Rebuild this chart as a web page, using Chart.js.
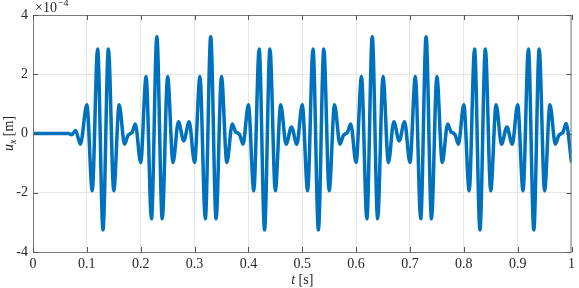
<!DOCTYPE html>
<html>
<head>
<meta charset="utf-8">
<script src="https://cdn.jsdelivr.net/npm/chart.js@4/dist/chart.umd.min.js"></script>
<style>
  html, body { margin: 0; padding: 0; background: #fff; }
  #wrap { width: 579px; height: 288px; }
</style>
</head>
<body>
<div id="wrap"><canvas id="uxChart" width="579" height="288"></canvas></div>
<script>
//----------------------
// Data (u_x in units of 1e-4 m)
//----------------------

const tValues = [0, 0.066, 0.072, 0.079, 0.088,
  0.10, 0.11, 0.12, 0.13, 0.14, 0.15, 0.16, 0.17, 0.176, 0.18, 0.184, 0.19,
  0.20, 0.21, 0.22, 0.23, 0.24, 0.25, 0.26, 0.27, 0.28, 0.29,
  0.30, 0.31, 0.32, 0.33, 0.34, 0.35, 0.36, 0.37, 0.376, 0.38, 0.384, 0.39,
  0.40, 0.41, 0.42, 0.43, 0.44, 0.45, 0.46, 0.47, 0.48, 0.49,
  0.50, 0.51, 0.52, 0.53, 0.54, 0.55, 0.56, 0.57, 0.576, 0.58, 0.584, 0.59,
  0.60, 0.61, 0.62, 0.63, 0.64, 0.65, 0.66, 0.67, 0.68, 0.69,
  0.70, 0.71, 0.72, 0.73, 0.74, 0.75, 0.76, 0.77, 0.776, 0.78, 0.784, 0.79,
  0.80, 0.81, 0.82, 0.83, 0.84, 0.85, 0.86, 0.87, 0.88, 0.89,
  0.90, 0.91, 0.92, 0.93, 0.94, 0.95, 0.96, 0.97, 0.976, 0.98, 0.984, 0.99,
  1.0];

const uValues = [0, 0, -0.04, 0.1, -0.36,
  0.97, -1.93, 2.85, -3.25, 2.85, -1.93, 0.97, -0.36, -0.08, -0.01, 0.04, 0.32,
  -0.98, 1.92, -2.88, 3.27, -2.88, 1.92, -0.98, 0.4, -0.25, 0.4,
  -0.98, 1.92, -2.88, 3.27, -2.88, 1.92, -0.98, 0.32, 0.06, 0.02, -0.05, -0.36,
  0.97, -1.93, 2.85, -3.25, 2.85, -1.93, 0.97, -0.36, 0.22, -0.36,
  0.97, -1.93, 2.85, -3.25, 2.85, -1.93, 0.97, -0.36, -0.08, -0.01, 0.04, 0.32,
  -0.98, 1.92, -2.88, 3.27, -2.88, 1.92, -0.98, 0.4, -0.25, 0.4,
  -0.98, 1.92, -2.88, 3.27, -2.88, 1.92, -0.98, 0.32, 0.06, 0.02, -0.05, -0.36,
  0.97, -1.93, 2.85, -3.25, 2.85, -1.93, 0.97, -0.36, 0.22, -0.36,
  0.97, -1.93, 2.85, -3.25, 2.85, -1.93, 0.97, -0.36, -0.08, -0.01, 0.04, 0.34,
  -0.98];

const xTicks = [0, 0.1, 0.2, 0.3, 0.4, 0.5, 0.6, 0.7, 0.8, 0.9, 1];
const yTicks = [-4, -2, 0, 2, 4];

const points = tValues.map((t, i) => ({ x: t, y: uValues[i] }));

const serif = '"Liberation Serif", "DejaVu Serif", serif';
const axisColor = '#7a7a7a';

//----------------------
// Box, inner ticks and labels (MATLAB look)
//----------------------

const matlabAxes = {
  id: 'matlabAxes',
  afterDraw(chart) {
    const ctx = chart.ctx;
    const a = chart.chartArea;
    const xs = chart.scales.x;
    const ys = chart.scales.y;
    ctx.save();
    ctx.strokeStyle = axisColor;
    ctx.lineWidth = 1;
    ctx.strokeRect(a.left + 0.5, a.top + 0.5, a.right - a.left - 1, a.bottom - a.top);

    // inward ticks on every side
    ctx.strokeStyle = '#555';
    ctx.beginPath();
    xTicks.forEach(v => {
      const px = Math.round(xs.getPixelForValue(v)) + 0.5;
      ctx.moveTo(px, a.bottom); ctx.lineTo(px, a.bottom - 5);
      ctx.moveTo(px, a.top); ctx.lineTo(px, a.top + 5);
    });
    yTicks.forEach(v => {
      const py = Math.round(ys.getPixelForValue(v)) + 0.5;
      ctx.moveTo(a.left, py); ctx.lineTo(a.left + 5, py);
      ctx.moveTo(a.right, py); ctx.lineTo(a.right - 5, py);
    });
    ctx.stroke();

    ctx.fillStyle = '#262626';
    ctx.textBaseline = 'alphabetic';

    // exponent label
    ctx.textAlign = 'left';
    ctx.font = '14px ' + serif;
    ctx.fillText('\u00d710', a.left + 2, 12);
    const w = ctx.measureText('\u00d710').width;
    ctx.font = '10px ' + serif;
    ctx.fillText('\u22124', a.left + 2 + w + 1, 6);

    // x title
    const cx = (a.left + a.right) / 2;
    ctx.font = 'italic 14px ' + serif;
    const tW = ctx.measureText('t').width;
    ctx.font = '14px ' + serif;
    const sW = ctx.measureText(' [s]').width;
    let x0 = cx - (tW + sW) / 2;
    ctx.font = 'italic 14px ' + serif;
    ctx.fillText('t', x0, 284);
    ctx.font = '14px ' + serif;
    ctx.fillText(' [s]', x0 + tW, 284);

    // y title, rotated
    ctx.translate(13, (a.top + a.bottom) / 2);
    ctx.rotate(-Math.PI / 2);
    ctx.font = 'italic 14px ' + serif;
    const uW = ctx.measureText('u').width;
    ctx.font = 'italic 10px ' + serif;
    const subW = ctx.measureText('x').width;
    ctx.font = '14px ' + serif;
    const mW = ctx.measureText(' [m]').width;
    x0 = -(uW + subW + mW) / 2;
    ctx.font = 'italic 14px ' + serif;
    ctx.fillText('u', x0, 0);
    ctx.font = 'italic 10px ' + serif;
    ctx.fillText('x', x0 + uW, 3);
    ctx.font = '14px ' + serif;
    ctx.fillText(' [m]', x0 + uW + subW, 0);
    ctx.restore();
  }
};

//----------------------
// Chart
//----------------------

const ctx = document.getElementById('uxChart').getContext('2d');
const chart = new Chart(ctx, {
  type: 'line',
  data: {
    datasets: [{
      data: points,
      borderColor: '#0072BD',
      borderWidth: 3.5,
      pointRadius: 0,
      fill: false,
      cubicInterpolationMode: 'monotone'
    }]
  },
  options: {
    responsive: false,
    animation: false,
    layout: { padding: { left: 0, right: 3, top: 15, bottom: 0 } },
    plugins: { legend: { display: false }, tooltip: { enabled: false } },
    scales: {
      x: {
        type: 'linear',
        min: 0,
        max: 1,
        afterFit: s => { s.height = 36; },
        afterBuildTicks: s => { s.ticks = xTicks.map(v => ({ value: v })); },
        grid: { color: '#e6e6e6', drawTicks: false },
        border: { display: false },
        ticks: {
          padding: 4,
          color: '#262626',
          font: { family: serif, size: 14 },
          maxRotation: 0,
          autoSkip: false,
          callback: v => String(Number(v.toFixed(1)))
        }
      },
      y: {
        type: 'linear',
        min: -4,
        max: 4,
        afterFit: s => { s.width = 33; },
        afterBuildTicks: s => { s.ticks = yTicks.map(v => ({ value: v })); },
        grid: { color: '#e6e6e6', drawTicks: false },
        border: { display: false },
        ticks: {
          padding: 5,
          color: '#262626',
          font: { family: serif, size: 14 },
          callback: v => String(v)
        }
      }
    }
  },
  plugins: [matlabAxes]
});
</script>
</body>
</html>
